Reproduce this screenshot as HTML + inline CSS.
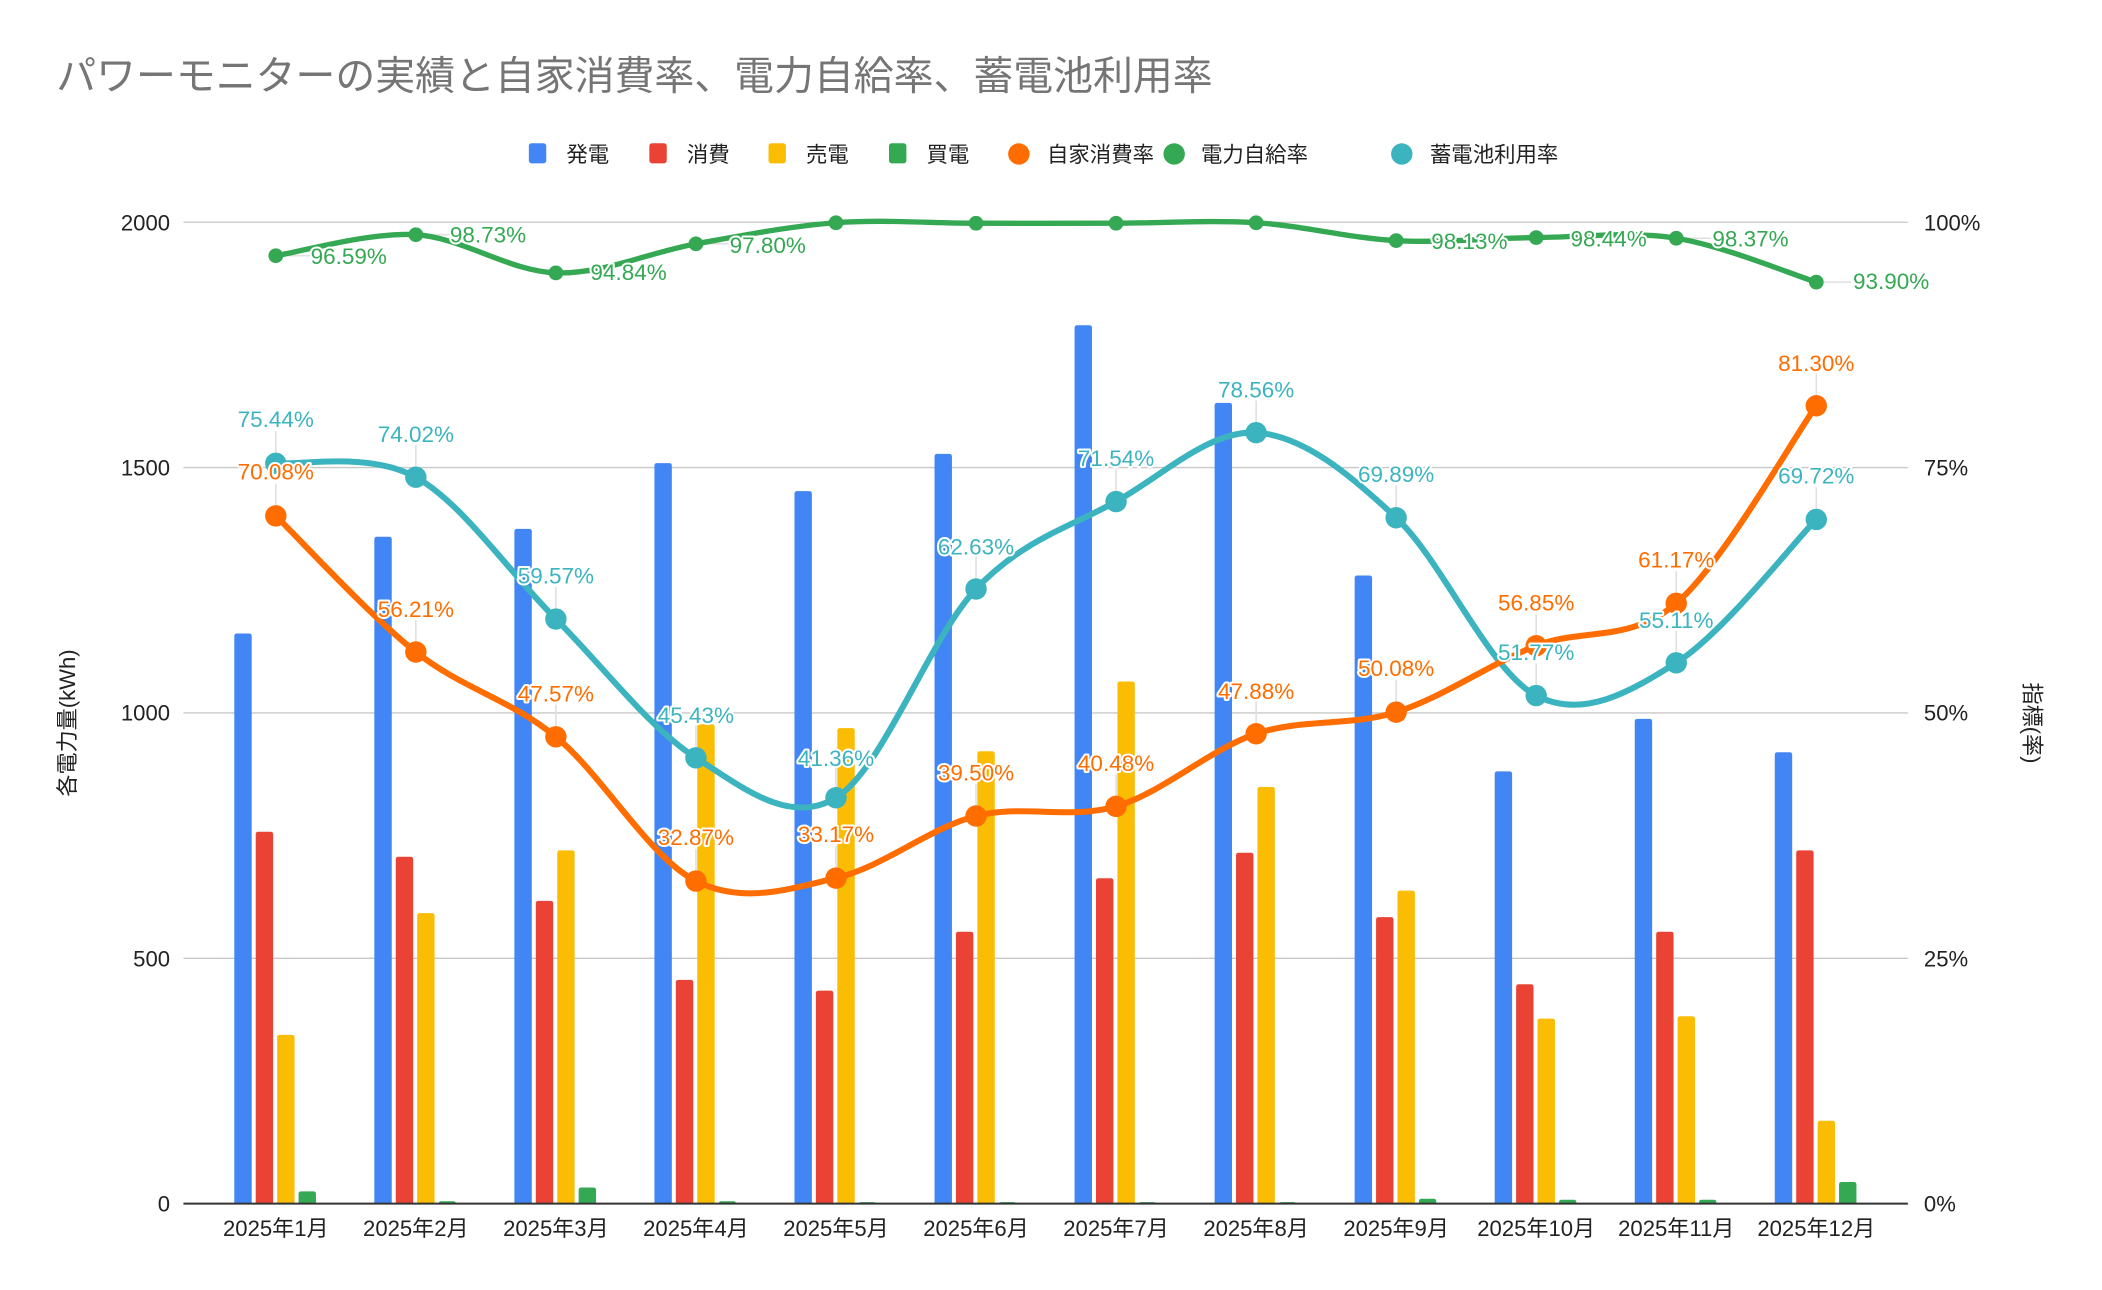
<!DOCTYPE html>
<html><head><meta charset="utf-8"><style>
html,body{margin:0;padding:0;background:#fff;}
svg{display:block;}
text{font-family:"Liberation Sans","Noto Sans CJK JP",sans-serif;}
.lbl{font-size:16.8px;text-anchor:middle;paint-order:stroke;stroke:#fff;stroke-width:3px;stroke-linejoin:round;}
.tk{font-size:16.5px;fill:#222;}
</style></head><body>
<svg id="c" width="2102" height="1290" viewBox="0 0 1570 963.5" preserveAspectRatio="none" xmlns="http://www.w3.org/2000/svg">
<rect width="1570" height="963.5" fill="#fff"/>
<text x="42" y="67" font-size="29.8" fill="#757575">パワーモニターの実績と自家消費率、電力自給率、蓄電池利用率</text>
<g font-size="16" fill="#222">
<rect x="395" y="107" width="13" height="15" rx="2" fill="#4285f4"/><text x="423" y="121">発電</text>
<rect x="485" y="107" width="13" height="15" rx="2" fill="#ea4335"/><text x="513" y="121">消費</text>
<rect x="574" y="107" width="13" height="15" rx="2" fill="#fbbc04"/><text x="602" y="121">売電</text>
<rect x="664" y="107" width="13" height="15" rx="2" fill="#34a853"/><text x="692" y="121">買電</text>
<circle cx="761" cy="115" r="8" fill="#ff6d01"/><text x="782" y="121">自家消費率</text>
<circle cx="877" cy="115" r="8" fill="#34a853"/><text x="897" y="121">電力自給率</text>
<circle cx="1047" cy="115" r="8" fill="#3cb4bf"/><text x="1068" y="121">蓄電池利用率</text>
</g>
<g stroke="#c8c8c8" stroke-width="1">
<line x1="137" y1="166" x2="1425" y2="166"/><line x1="137" y1="349.25" x2="1425" y2="349.25"/>
<line x1="137" y1="532.5" x2="1425" y2="532.5"/><line x1="137" y1="715.75" x2="1425" y2="715.75"/>
</g>
<g class="tk" text-anchor="end">
<text x="127" y="172">2000</text><text x="127" y="355">1500</text><text x="127" y="538">1000</text><text x="127" y="722">500</text><text x="127" y="905">0</text>
</g>
<g class="tk">
<text x="1437" y="172">100%</text><text x="1437" y="355">75%</text><text x="1437" y="538">50%</text><text x="1437" y="722">25%</text><text x="1437" y="905">0%</text>
</g>
<text class="tk" transform="translate(56,540) rotate(-90)" text-anchor="middle">各電力量(kWh)</text>
<text class="tk" transform="translate(1512,540) rotate(90)" text-anchor="middle">指標(率)</text>
<g id="bars"></g>
<line x1="137" y1="899" x2="1425" y2="899" stroke="#333" stroke-width="1.5"/>
<g class="tk" text-anchor="middle">
<text x="206" y="923">2025年1月</text><text x="310.6" y="923">2025年2月</text><text x="415.2" y="923">2025年3月</text><text x="519.8" y="923">2025年4月</text><text x="624.4" y="923">2025年5月</text><text x="729" y="923">2025年6月</text><text x="833.6" y="923">2025年7月</text><text x="938.2" y="923">2025年8月</text><text x="1042.8" y="923">2025年9月</text><text x="1147.4" y="923">2025年10月</text><text x="1252" y="923">2025年11月</text><text x="1356.6" y="923">2025年12月</text>
</g>
<g id="lines"></g>
<g class="lbl" fill="#34a853">
<text x="232" y="197" style="text-anchor:start">96.59%</text><text x="336" y="181" style="text-anchor:start">98.73%</text><text x="441" y="209" style="text-anchor:start">94.84%</text><text x="545" y="189" style="text-anchor:start">97.80%</text>
<text x="1069" y="186" style="text-anchor:start">98.13%</text><text x="1173" y="184" style="text-anchor:start">98.44%</text><text x="1279" y="184" style="text-anchor:start">98.37%</text><text x="1384" y="216" style="text-anchor:start">93.90%</text>
</g>
<g class="lbl" fill="#ff6d01">
<text x="206" y="358">70.08%</text><text x="310.6" y="461">56.21%</text><text x="415.2" y="524">47.57%</text><text x="519.8" y="631">32.87%</text><text x="624.4" y="629">33.17%</text><text x="729" y="583">39.50%</text><text x="833.6" y="576">40.48%</text><text x="938.2" y="522">47.88%</text><text x="1042.8" y="505">50.08%</text><text x="1147.4" y="456">56.85%</text><text x="1252" y="424">61.17%</text><text x="1356.6" y="277">81.30%</text>
</g>
<g class="lbl" fill="#3cb4bf">
<text x="206" y="319">75.44%</text><text x="310.6" y="330">74.02%</text><text x="415.2" y="436">59.57%</text><text x="519.8" y="540">45.43%</text><text x="624.4" y="572">41.36%</text><text x="729" y="414">62.63%</text><text x="833.6" y="348">71.54%</text><text x="938.2" y="297">78.56%</text><text x="1042.8" y="360">69.89%</text><text x="1147.4" y="493">51.77%</text><text x="1252" y="469">55.11%</text><text x="1356.6" y="361">69.72%</text>
</g>
</svg>
<script>
(function(){
var NS="http://www.w3.org/2000/svg";
function el(p,t,a){var e=document.createElementNS(NS,t);for(var k in a)e.setAttribute(k,a[k]);p.appendChild(e);return e;}
var cx=[];for(var i=0;i<12;i++)cx.push(206+i*104.6);
var B=[[1162,758,344,25],[1359,707,592,5],[1375,617,720,33],[1509,456,977,5],[1452,434,969,3],[1528,554,922,3],[1790,663,1064,3],[1632,715,849,3],[1280,584,638,10],[881,447,377,8],[988,554,382,8],[920,720,169,44]];
var cols=["#4285f4","#ea4335","#fbbc04","#34a853"];
var bg=document.getElementById("bars");
for(var i=0;i<12;i++)for(var j=0;j<4;j++){var h=B[i][j]*0.3665;el(bg,"path",{d:"M"+(cx[i]-31+j*16)+" 899 V"+(899-h+2)+" q0 -2 2 -2 h9 q2 0 2 2 V899 Z",fill:cols[j]});}
var lg=document.getElementById("lines");
function y(p){return 899-p*7.33;}
var S=[
 {c:"#34a853",r:5.5,w:4,d:[96.59,98.73,94.84,97.80,99.95,99.9,99.9,99.95,98.13,98.44,98.37,93.90],lab:"right"},
 {c:"#3cb4bf",r:8,w:4.5,d:[75.44,74.02,59.57,45.43,41.36,62.63,71.54,78.56,69.89,51.77,55.11,69.72]},
 {c:"#ff6d01",r:8,w:4.5,d:[70.08,56.21,47.57,32.87,33.17,39.50,40.48,47.88,50.08,56.85,61.17,81.30]}
];
S.forEach(function(s){
 var P=s.d.map(function(v,i){return [cx[i],y(v)];});
 P.forEach(function(p,i){
  if(s.lab==="right"){ if(i<4||i>7) el(lg,"line",{x1:p[0],y1:p[1],x2:p[0]+26,y2:p[1],stroke:"#e0e0e0","stroke-width":1.2});}
  else el(lg,"line",{x1:p[0],y1:p[1],x2:p[0],y2:p[1]-24,stroke:"#e0e0e0","stroke-width":1.2});
 });
 var d="M"+P[0][0]+" "+P[0][1];
 for(var i=0;i<P.length-1;i++){
  var p0=P[Math.max(i-1,0)],p1=P[i],p2=P[i+1],p3=P[Math.min(i+2,P.length-1)];
  var k=1/6;
  var c1=[p1[0]+(p2[0]-p0[0])*k,p1[1]+(p2[1]-p0[1])*k],c2=[p2[0]-(p3[0]-p1[0])*k,p2[1]-(p3[1]-p1[1])*k];
  d+=" C"+c1[0]+" "+c1[1]+" "+c2[0]+" "+c2[1]+" "+p2[0]+" "+p2[1];
 }
 el(lg,"path",{d:d,fill:"none",stroke:s.c,"stroke-width":s.w,"stroke-linecap":"round"});
 P.forEach(function(p){el(lg,"circle",{cx:p[0],cy:p[1],r:s.r,fill:s.c});});
});
})();
</script>
</body></html>
